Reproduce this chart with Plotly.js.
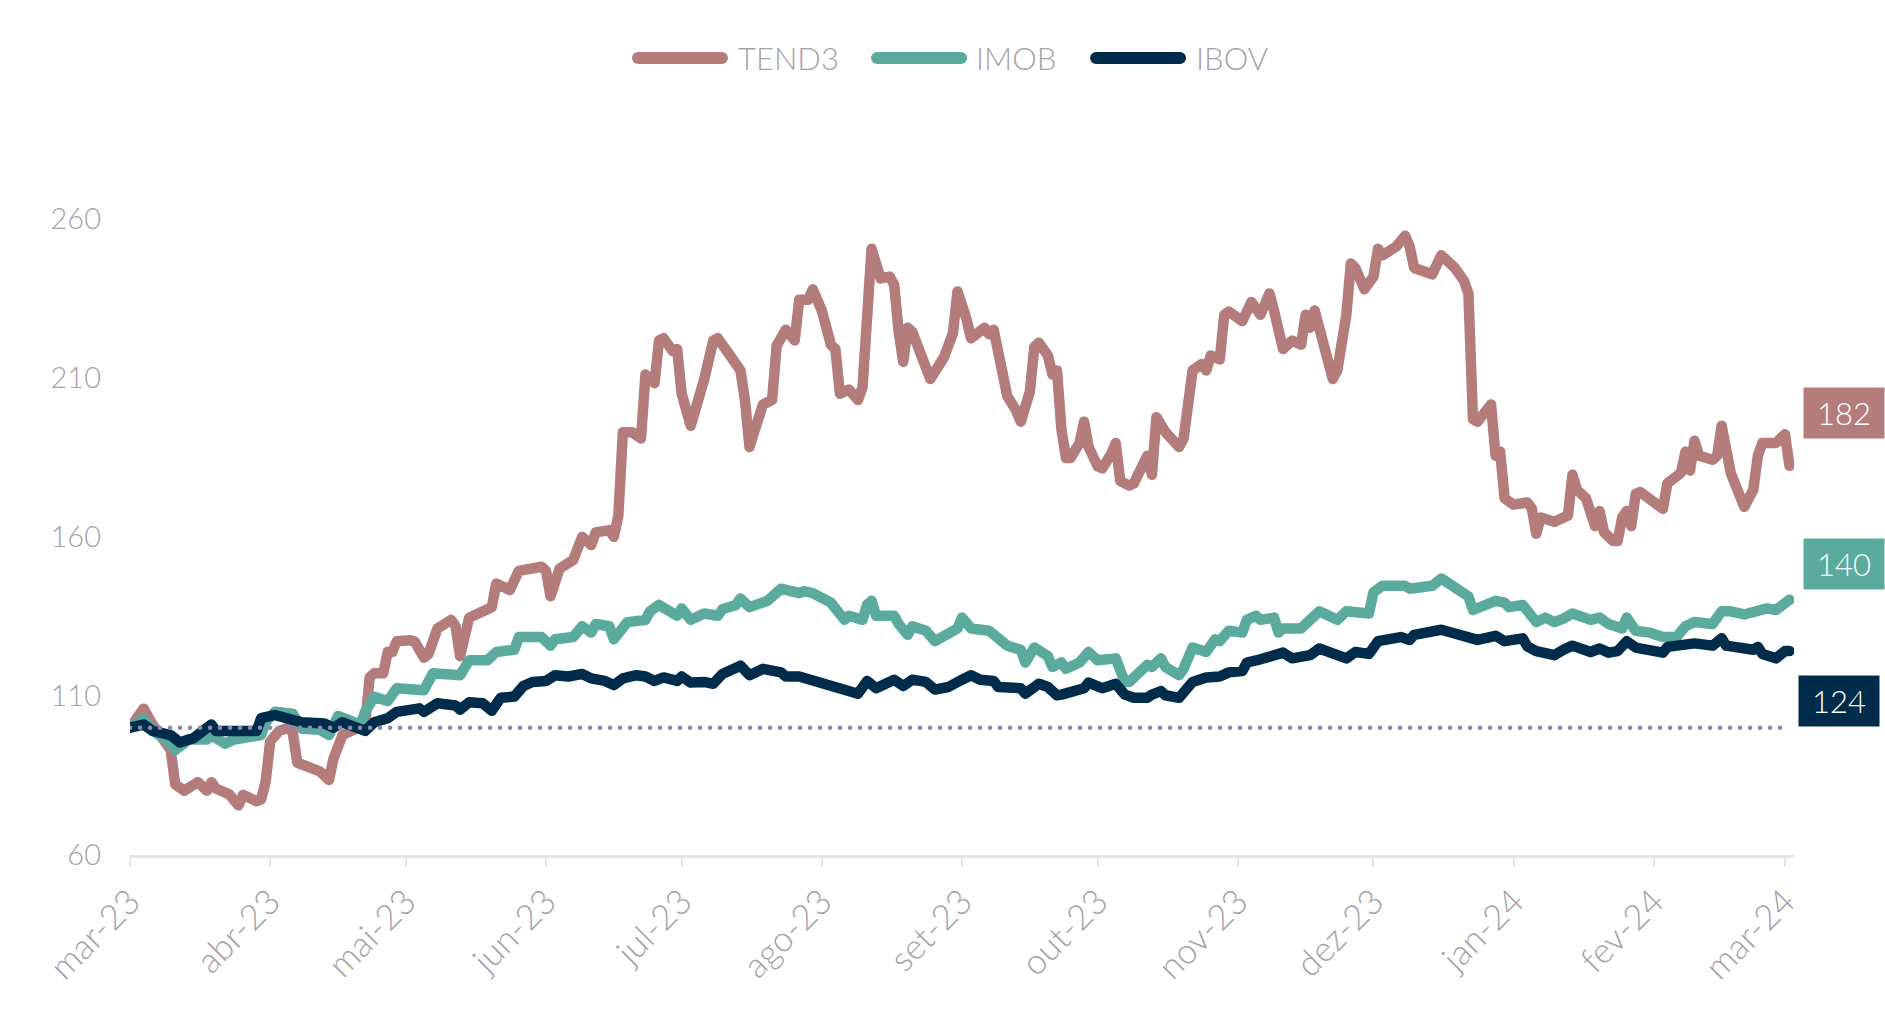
<!DOCTYPE html>
<html><head><meta charset="utf-8">
<script src="https://cdn.plot.ly/plotly-3.0.1.min.js"></script>
<style>
html,body{margin:0;padding:0;background:#fff;}
#chart{width:1885px;height:1033px;}
.js-line{stroke-linejoin:round;stroke-linecap:round;}
</style></head><body><div id="chart"></div>
<script>
// ---- data (days counted from START_DATE) ----
const START_DATE = '2023-03-01';
const SERIES_NAMES = ['TEND3', 'IMOB', 'IBOV'];
const BASE = 100;

const tend3Days = [0,3,5,8,9,10,12,15,17,18,19,22,24,25,28,29,30,31,33,35,36,37,40,42,44,45,47,49,52,53,54,56,57,58,59,62,63,65,66,68,71,72,73,75,77,79,80,81,84,86,88,91,92,93,95,98,100,102,103,106,107,108,109,111,113,114,116,117,118,120,121,122,124,126,127,129,130,133,135,136,137,138,140,142,143,145,147,148,150,151,153,155,156,157,159,161,162,164,166,168,169,170,171,172,173,177,178,180,182,183,185,186,189,190,191,193,194,196,197,199,200,201,203,204,205,206,207,208,210,211,212,214,215,217,218,219,221,222,224,225,226,227,229,232,233,235,237,238,239,241,242,243,246,248,250,252,253,254,255,257,259,260,261,262,264,266,267,268,269,270,271,273,275,276,277,280,282,283,284,288,289,290,293,295,296,297,298,301,302,303,304,306,309,310,311,312,315,317,318,319,320,322,323,324,325,326,328,329,330,331,332,333,334,339,340,342,343,344,345,346,347,350,351,352,353,354,357,359,360,361,364,366,367];
const tend3Values = [100,106,101,94.3,93,82.2,80.2,82.9,80.2,82.9,80.9,79,75.6,78.9,76.9,77.5,83,95.7,99,100,98.4,89,87.6,86.3,83.6,90.3,97.7,99,101,115.8,117.1,117.1,123.8,123.8,127.2,127.5,127,122,123.2,131.2,133.9,131.9,122.5,134.6,135.9,137.2,137.9,145.3,143.3,149.3,150,150.6,149.3,141.3,150,152.7,160,157.4,161.4,162.1,160,166.7,192.9,192.9,190.9,211,208.3,221.7,222.4,218.4,219,205,194.9,204.3,209.6,221.7,222.4,216.4,212.3,203,188.2,192.9,201.6,203,220,225.1,221.7,234.5,234.5,237.8,231.1,220.4,219,205,206.3,203,207,250.5,241.2,241.8,239.2,224.4,215,225.7,224.4,209.6,212.3,216.4,224,237.1,228.4,222.4,225.7,223.7,225.1,208.3,204.3,199.6,196.2,205.6,219.7,221,217,211,212.3,193.6,184.8,184.8,189.5,196.2,188.2,182.2,181.5,186,189.5,177.5,176.1,176.8,183.5,185.5,179.5,197.6,192.9,188.2,190.9,212.3,214.3,212.3,217,215.7,229.8,230.8,227.8,233.8,229.8,236.5,231.1,225,219,221.7,220.4,229.8,225.7,231.1,220.4,209.6,212.3,220.4,229.8,245.9,244.5,237.8,241.8,250.5,248.5,251.2,254.6,251.2,244.5,242.5,245.2,248.5,244.5,240.5,236.5,197,196.2,201.6,185.5,186.8,172.1,170.1,170.8,169,161,166.1,164.7,166.1,166.7,179.5,174.8,172.1,167,163.4,168.1,161.4,158.7,158.7,166.1,168.1,163.4,173.5,174.1,168.8,176.8,179.5,180.1,186.8,180.8,190.2,185.5,184.2,185.5,194.9,188.2,180.1,169.4,174.8,185.5,189.5,189.5,192.2,182.3];

const imobDays = [0,3,5,8,10,12,13,17,18,21,23,29,30,32,36,38,42,44,46,51,52,54,57,59,62,65,67,72,73,75,79,81,85,86,91,93,94,98,100,102,103,106,107,110,114,115,117,121,122,124,127,130,131,134,135,137,141,144,148,149,151,155,156,158,159,162,163,164,165,169,170,172,173,176,178,181,183,184,186,190,192,194,197,198,200,203,204,206,207,210,212,214,218,219,220,221,225,226,228,229,232,233,235,238,240,241,243,246,247,249,250,253,254,255,259,261,263,267,269,274,275,277,282,283,288,290,296,297,299,302,304,305,308,309,311,313,315,317,319,323,325,327,330,331,333,336,339,342,344,346,350,352,354,357,360,362,364,366,367];
const imobValues = [100,103,99,96.3,93,95,96.3,96.3,97.7,95,96.3,97.7,101.7,105,104.4,99.7,99.4,97.7,103.7,101,105,109.7,108.4,112.4,111.8,111.8,117.1,117.1,116.5,121.2,121.2,123.8,124.5,128.5,128.5,125.8,127.8,128.5,131.9,129.9,132.6,131.9,127.8,133.2,133.9,136.6,138.6,135.2,137.5,133.9,135.9,135.2,137.2,138.6,140.6,137.9,139.9,143.7,142.3,142.9,142.3,139.3,137.2,133.9,135.2,133.9,138.6,139.9,135.2,135.2,132.6,129.2,131.9,130.5,127.2,129.2,131.2,134.6,131.2,130.5,127.8,125.8,124.5,120.5,125.2,122.5,119.1,120.5,118.5,120.5,123.8,121.2,121.8,118.5,114.4,114.4,119.8,119.1,121.8,119.1,116.5,118.5,125.2,123.8,127.8,127.2,130.5,129.9,133.9,135.2,133.9,134.6,129.9,131.2,131.2,133.9,136.6,133.9,136.6,135.9,142.6,144.6,144.6,143.7,144.6,146.9,141.3,137,137.9,139.9,139.3,137.9,138.6,136.6,133.2,134.6,133.2,134.3,135.9,133.9,134.6,132.6,131.2,134.6,130.5,129.9,128.5,128.5,131.9,133.2,132.6,136.6,136.6,135.6,136.6,137.5,137,139.6,140.2];

const ibovDays = [0,3,5,9,11,14,18,19,28,29,32,36,38,43,45,47,50,52,54,57,59,64,65,68,72,73,75,78,80,82,85,87,89,92,94,97,100,102,105,107,109,112,114,116,118,121,122,124,127,129,131,133,135,137,140,144,145,148,151,154,157,161,163,165,169,171,173,176,178,181,184,186,188,191,192,197,198,201,203,205,206,209,211,212,215,218,220,222,225,226,228,229,232,235,238,241,243,246,247,250,251,255,257,261,263,267,269,271,274,276,280,281,283,284,290,296,298,302,304,308,309,311,315,317,319,323,325,327,329,331,333,339,340,346,350,352,353,359,360,361,364,366,367];
const ibovValues = [100,101,99,97.7,95.4,96.7,101,99,99,103,104,103,101.7,101.3,100,101.7,99.7,99,101.7,103,105,106.1,105,107.7,107,105.7,108,107.7,105.3,109.4,109.8,113.1,114.4,114.7,116.5,116.1,116.9,115.5,114.7,113.4,115.5,116.5,116.1,114.7,115.8,114.7,116.1,114.2,114.4,113.8,116.9,117.8,119.5,116.5,118.5,117.4,116.1,116.1,114.7,113.4,111.8,110.7,114.7,112.4,115.1,113.1,115.1,114.4,112,112.8,115.1,116.5,115.1,114.7,112.8,112.4,110.7,113.8,112.8,110.2,110.4,111.8,112.4,114.2,112.4,113.8,110.4,109.4,109.4,110.4,111.5,110.2,109.4,114.4,115.8,116.1,117.4,117.8,120.5,121.5,121.8,123.6,121.8,122.8,124.9,123.2,121.8,123.8,123.2,127.2,127.6,128.5,127.6,129.2,130.8,128.9,127.6,128.9,127.2,128.1,125.6,124.1,122.8,124.5,125.8,123.8,124.9,123.6,124.1,127.2,125.2,123.6,125.4,126.5,125.8,128.1,125.8,124.5,125.4,123.2,121.8,124.1,124.1];

const monthTickDates = ['2023-03-01','2023-04-01','2023-05-01','2023-06-01','2023-07-01','2023-08-01','2023-09-01','2023-10-01','2023-11-01','2023-12-01','2024-01-01','2024-02-01','2024-03-01'];
const monthTickLabels = ['mar-23','abr-23','mai-23','jun-23','jul-23','ago-23','set-23','out-23','nov-23','dez-23','jan-24','fev-24','mar-24'];
const yTickValues = [60, 110, 160, 210, 260];

// ---- styling ----
const COLORS = ['#b57c7c', '#5aab9e', '#002c4b'];
const BASE_COLOR = '#8f88ae';
const TEXT_GRAY = '#a3a3ab';
const FONT = "Lato, 'Open Sans', 'Noto Sans', sans-serif";

function dayToDate(d) {
  const t = Date.parse(START_DATE + 'T00:00:00Z') + d * 86400000;
  return new Date(t).toISOString().slice(0, 10);
}

const daysList = [tend3Days, imobDays, ibovDays];
const valuesList = [tend3Values, imobValues, ibovValues];

const traces = SERIES_NAMES.map((name, i) => ({
  type: 'scatter', mode: 'lines', name: name,
  x: daysList[i].map(dayToDate), y: valuesList[i],
  line: {color: COLORS[i], width: 10.5},
  hoverinfo: 'skip', showlegend: false
}));

const firstDate = dayToDate(Math.min(...tend3Days));
const lastDate = dayToDate(Math.max(...tend3Days));
traces.push({
  type: 'scatter', mode: 'lines', x: [firstDate, lastDate], y: [BASE, BASE],
  line: {color: BASE_COLOR, width: 4.5, dash: '0.1px,9.9px'},
  hoverinfo: 'skip', showlegend: false
});

// custom legend (long rounded swatches) + end labels
const shapes = [];
const annotations = [];
const legendCenters = [0.3305, 0.4742, 0.6058];
const legendTextX = [0.3642, 0.5072, 0.6394];
const legendY = 1.1386;
SERIES_NAMES.forEach((name, i) => {
  const common = {xref: 'paper', yref: 'paper', xsizemode: 'pixel', ysizemode: 'pixel',
    xanchor: legendCenters[i], yanchor: legendY, fillcolor: COLORS[i], line: {width: 0}};
  shapes.push(Object.assign({type: 'rect', x0: -42, x1: 42, y0: -6, y1: 6}, common));
  shapes.push(Object.assign({type: 'circle', x0: -48, x1: -36, y0: -6, y1: 6}, common));
  shapes.push(Object.assign({type: 'circle', x0: 36, x1: 48, y0: -6, y1: 6}, common));
  annotations.push({xref: 'paper', yref: 'paper', x: legendTextX[i], y: legendY,
    xanchor: 'left', yanchor: 'middle', showarrow: false, text: name,
    font: {family: FONT, size: 31, color: TEXT_GRAY, weight: 300}});
});

const endLabelX = [1.0300, 1.0300, 1.0273];
const endLabelY = [0.6314, 0.4164, 0.2207];
valuesList.forEach((vals, i) => {
  annotations.push({xref: 'paper', yref: 'paper', x: endLabelX[i], y: endLabelY[i],
    xanchor: 'center', yanchor: 'middle', showarrow: false,
    text: String(Math.round(vals[vals.length - 1])),
    bgcolor: COLORS[i], width: 80, height: 50, borderpad: 0, align: 'center', valign: 'middle',
    font: {family: FONT, size: 31, color: '#ffffff', weight: 300}});
});

const layout = {
  width: 1885, height: 1033,
  margin: {l: 130, r: 91, t: 155, b: 178},
  paper_bgcolor: '#ffffff', plot_bgcolor: '#ffffff',
  font: {family: FONT, color: TEXT_GRAY, weight: 300},
  showlegend: false,
  xaxis: {
    type: 'date', range: ['2023-03-01', '2024-03-03'], automargin: false,
    showgrid: false, zeroline: false, showline: true, linecolor: '#e6e6e6', linewidth: 3,
    ticks: 'outside', tickcolor: '#e6e6e6', tickwidth: 2, ticklen: 9,
    tickmode: 'array', tickvals: monthTickDates, ticktext: monthTickLabels,
    tickangle: -45, tickfont: {family: FONT, size: 35, color: TEXT_GRAY, weight: 300},
    fixedrange: true
  },
  yaxis: {
    range: [60, 280], automargin: false,
    showgrid: false, zeroline: false, showline: false, ticks: '',
    tickmode: 'array', tickvals: yTickValues, ticktext: yTickValues.map(String),
    ticklabelstandoff: 28,
    tickfont: {family: FONT, size: 29, color: TEXT_GRAY, weight: 300},
    fixedrange: true
  },
  shapes: shapes,
  annotations: annotations
};

Plotly.newPlot('chart', traces, layout, {displayModeBar: false, staticPlot: true});
</script>
</body></html>
